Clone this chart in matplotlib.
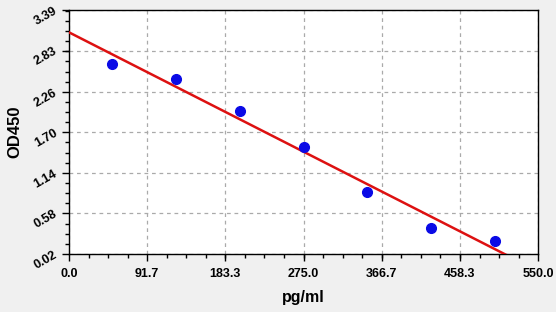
import numpy as np
import matplotlib.pyplot as plt
from matplotlib.ticker import FixedLocator, AutoMinorLocator

plt.rcParams['font.family'] = ['Liberation Sans', 'DejaVu Sans']

# standard points
conc = [50, 125, 200, 275, 350, 425, 500]
od = [2.65, 2.44, 1.99, 1.50, 0.87, 0.38, 0.20]

xticks = [0.0, 91.7, 183.3, 275.0, 366.7, 458.3, 550.0]
yticks = [0.02, 0.58, 1.14, 1.70, 2.26, 2.83, 3.39]

# linear fit of the standards
k, m = np.polyfit(conc, od, 1)
xf = np.linspace(0, 550, 200)
yf = k * xf + m

fig = plt.figure(figsize=(5.56, 3.12), dpi=100, facecolor='#f0f0f0')
ax = fig.add_axes([69/556, 1 - 254/312, 469/556, 244/312])
ax.set_facecolor('white')

ax.plot(xf, yf, color='#dd1111', lw=1.8, zorder=3)
ax.plot(conc, od, 'o', color='#0a0ae6', ms=7, zorder=4)

ax.set_xlim(0, 550)
ax.set_ylim(0.02, 3.39)
ax.xaxis.set_major_locator(FixedLocator(xticks))
ax.yaxis.set_major_locator(FixedLocator(yticks))
ax.xaxis.set_minor_locator(AutoMinorLocator(4))
ax.yaxis.set_minor_locator(AutoMinorLocator(4))
ax.set_xticklabels(['%.1f' % v for v in xticks], fontsize=9, fontweight='bold')
ax.set_yticklabels(['%.2f' % v for v in yticks], fontsize=9, fontweight='bold',
                   rotation=30, ha='right', va='center', rotation_mode='anchor')
ax.tick_params(which='major', direction='out', length=5, width=1, color='black')
ax.tick_params(which='minor', direction='out', length=3, width=1, color='black')
ax.tick_params(axis='x', pad=5)
ax.tick_params(axis='y', pad=4)

ax.grid(True, which='major', color='#aaaaaa', linestyle=(0, (3, 3)), lw=0.9)
for s in ax.spines.values():
    s.set_color('black')
    s.set_linewidth(1)

ax.set_xlabel('pg/ml', fontsize=11.5, fontweight='bold', labelpad=7)
ax.set_ylabel('OD450', fontsize=12, fontweight='bold', labelpad=7)

fig.savefig('out.png', dpi=100, facecolor=fig.get_facecolor())
